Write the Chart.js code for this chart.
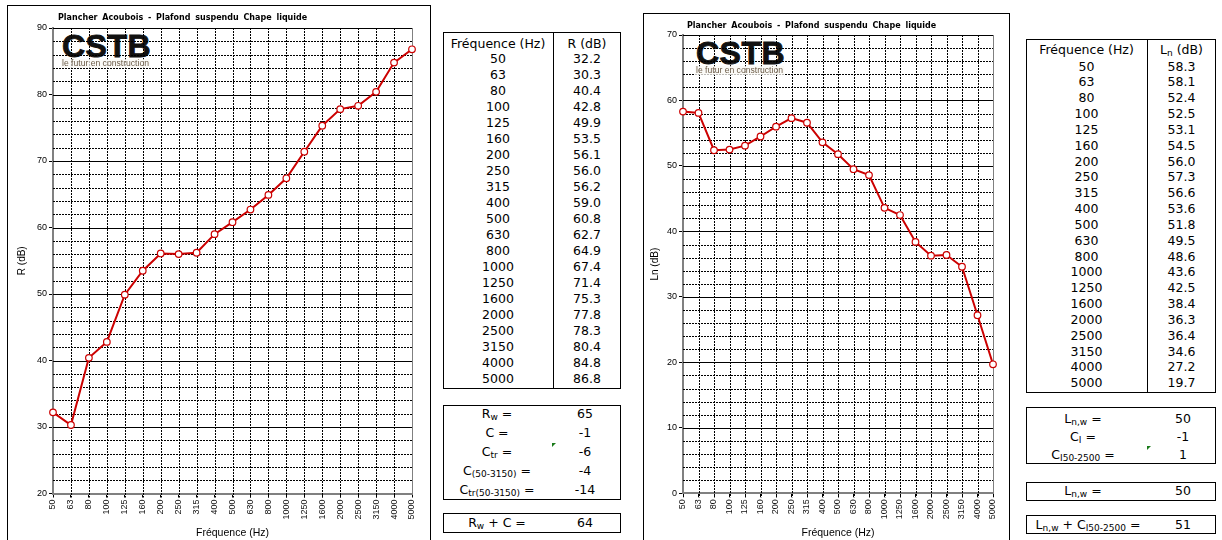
<!DOCTYPE html>
<html>
<head>
<meta charset="utf-8">
<script src="https://cdn.jsdelivr.net/npm/chart.js@4/dist/chart.umd.min.js"></script>
<style>
  html, body { margin: 0; padding: 0; }
  body { width: 1222px; height: 540px; overflow: hidden; background: #fff; position: relative; font-family: "DejaVu Sans", Verdana, sans-serif; color: #000; }
  .frame { position: absolute; border: 1px solid #000; background: #fff; overflow: hidden; }
  .frame canvas { position: absolute; left: 0; top: 0; z-index: 1; }
  .chart-title { position: absolute; z-index: 2; font: bold 8px "DejaVu Sans", Verdana, sans-serif; white-space: nowrap; line-height: 10px; word-spacing: 2px; }
  .logo { position: absolute; z-index: 0; }
  .logo .mark { font: bold 32px "Liberation Sans", Arial, sans-serif; line-height: 26px; letter-spacing: 0.5px; color: #111; -webkit-text-stroke: 0.9px #111; }
  .tag { position: absolute; z-index: 2; font: 8.6px "Liberation Sans", Arial, sans-serif; color: #6a5a46; line-height: 9px; white-space: nowrap; background: rgba(250,248,244,0.75); padding: 0 1px; }
  .box { position: absolute; border: 1px solid #000; background: #fff; font-size: 12.5px; }
  .box .div { position: absolute; top: 0; bottom: 0; width: 1px; background: #000; }
  .row { position: absolute; left: 0; right: 0; white-space: nowrap; }
  .row span { position: absolute; top: 0; text-align: center; }
  sub { font-size: 9px; vertical-align: -2px; line-height: 0; }
  .flag { position: absolute; width: 0; height: 0; border-top: 4px solid #1a7a1a; border-right: 4px solid transparent; z-index: 3; }
</style>
</head>
<body>
<div class="frame" id="frameR" style="left:7px; top:5px; width:422px; height:545px;">
  <div class="logo" style="left:54px; top:27px;"><div class="mark">CSTB</div></div>
  <div class="tag" style="left:53px; top:53px;">le futur en construction</div>
  <div class="chart-title" style="left:50px; top:7px;">Plancher Acoubois - Plafond suspendu Chape liquide</div>
  <canvas id="chartR" width="422" height="540"></canvas>
</div>
<div class="frame" id="frameLn" style="left:643px; top:13px; width:365px; height:537px;">
  <div class="logo" style="left:52px; top:26px;"><div class="mark">CSTB</div></div>
  <div class="tag" style="left:51px; top:52px;">le futur en construction</div>
  <div class="chart-title" style="left:43px; top:7px;">Plancher Acoubois - Plafond suspendu Chape liquide</div>
  <canvas id="chartLn" width="365" height="532"></canvas>
</div>
<div id="tables"></div>

<script>
// Third-octave band centre frequencies (Hz)
const frequencyLabels = ['50', '63', '80', '100', '125', '160', '200', '250', '315', '400', '500', '630', '800', '1000', '1250', '1600', '2000', '2500', '3150', '4000', '5000'];

// Airborne sound reduction index R (dB)
const airborneR = [32.2, 30.3, 40.4, 42.8, 49.9, 53.5, 56.1, 56.0, 56.2, 59.0, 60.8, 62.7, 64.9, 67.4, 71.4, 75.3, 77.8, 78.3, 80.4, 84.8, 86.8];

// Normalised impact sound pressure level Ln (dB)
const impactLn = [58.3, 58.1, 52.4, 52.5, 53.1, 54.5, 56.0, 57.3, 56.6, 53.6, 51.8, 49.5, 48.6, 43.6, 42.5, 38.4, 36.3, 36.4, 34.6, 27.2, 19.7];

// Single-number ratings
const airborneRatings = [['R<sub>w</sub> =', '65'], ['C =', '-1'], ['C<sub>tr</sub> =', '-6'], ['C<sub>(50-3150)</sub> =', '-4'], ['C<sub>tr(50-3150)</sub> =', '-14']];
const airborneSum = [['R<sub>w</sub> + C =', '64']];
const impactRatings = [['L<sub>n,w</sub> =', '50'], ['C<sub>I</sub> =', '-1'], ['C<sub>I50-2500</sub> =', '1']];
const impactWeighted = [['L<sub>n,w</sub> =', '50']];
const impactSum = [['L<sub>n,w</sub> + C<sub>I50-2500</sub> =', '51']];

// ---- grid in the spreadsheet style: dotted minor lines, solid majors ----
const sheetGrid = {
  id: 'sheetGrid',
  beforeDatasetsDraw(chart) {
    const { ctx, chartArea: a, scales: { x, y } } = chart;
    const minorStep = 2, majorStep = 10;
    ctx.save();
    ctx.lineWidth = 1;
    ctx.strokeStyle = '#000';
    ctx.setLineDash([2, 1]);
    ctx.beginPath();
    for (let v = y.min + minorStep; v < y.max; v += minorStep) {
      if (v % majorStep === 0) continue;
      const py = Math.round(y.getPixelForValue(v)) + 0.5;
      ctx.moveTo(a.left, py); ctx.lineTo(a.right, py);
    }
    for (let i = 1; i < x.ticks.length - 1; i++) {
      const px = Math.round(x.getPixelForTick(i)) + 0.5;
      ctx.moveTo(px, a.top); ctx.lineTo(px, a.bottom + 4);
    }
    ctx.stroke();
    ctx.setLineDash([]);
    ctx.beginPath();
    for (let v = y.min + majorStep; v <= y.max; v += majorStep) {
      const py = Math.round(y.getPixelForValue(v)) + 0.5;
      ctx.moveTo(a.left, py); ctx.lineTo(a.right, py);
    }
    ctx.stroke();
    ctx.strokeStyle = '#808080';
    ctx.beginPath();
    const rx = Math.round(x.getPixelForTick(x.ticks.length - 1)) + 0.5;
    ctx.moveTo(rx, a.top); ctx.lineTo(rx, a.bottom);
    ctx.stroke();
    ctx.restore();
  }
};

function buildChart(canvas, values, yTitle, yMin, yMax, g) {
  const axisFont = { family: '"Liberation Sans", Arial, sans-serif' };
  return new Chart(canvas, {
    type: 'line',
    data: {
      labels: frequencyLabels,
      datasets: [{
        data: values,
        borderColor: '#CC0000',
        borderWidth: 2,
        pointRadius: 3.3,
        pointBackgroundColor: '#fff',
        pointBorderColor: '#CC0000',
        pointBorderWidth: 1.2,
        tension: 0,
        clip: false
      }]
    },
    options: {
      responsive: false,
      animation: false,
      devicePixelRatio: 1,
      layout: { padding: { left: 0, right: g.padRight, top: g.padTop, bottom: 0 } },
      plugins: { legend: { display: false }, tooltip: { enabled: false } },
      scales: {
        x: {
          type: 'category',
          offset: false,
          grid: { drawOnChartArea: false, tickLength: 4, color: '#000' },
          border: { color: '#808080', width: 2 },
          ticks: { autoSkip: false, minRotation: 90, maxRotation: 90, padding: 2, color: '#111', font: { ...axisFont, size: 9 } },
          title: { display: true, text: 'Fréquence (Hz)', color: '#000', font: { ...axisFont, size: 10.5 }, padding: { top: 0, bottom: 7 } },
          afterFit: s => { s.height = g.xHeight; }
        },
        y: {
          min: yMin,
          max: yMax,
          grid: { drawOnChartArea: false, tickLength: 4, color: '#000' },
          border: { color: '#808080', width: 2 },
          ticks: { stepSize: 10, padding: 2, color: '#000', font: { ...axisFont, size: 9 } },
          title: { display: true, text: yTitle, color: '#000', font: { ...axisFont, size: 10 }, padding: { top: g.yTitlePad, bottom: 0 } },
          afterFit: s => { s.width = g.yWidth; }
        }
      }
    },
    plugins: [sheetGrid]
  });
}

buildChart(document.getElementById('chartR'), airborneR, 'R (dB)', 20, 90,
  { padRight: 18, padTop: 22, xHeight: 52.5, yWidth: 45, yTitlePad: 8 });
buildChart(document.getElementById('chartLn'), impactLn, 'Ln (dB)', 0, 70,
  { padRight: 16, padTop: 21, xHeight: 52.7, yWidth: 39, yTitlePad: 5 });

// ---- value tables ----
const host = document.getElementById('tables');

function makeBox(left, top, width, height, divX) {
  const box = document.createElement('div');
  box.className = 'box';
  Object.assign(box.style, { left: left + 'px', top: top + 'px', width: (width - 2) + 'px', height: (height - 2) + 'px' });
  if (divX !== null) {
    const d = document.createElement('div');
    d.className = 'div';
    d.style.left = (divX - left - 1) + 'px';
    box.appendChild(d);
  }
  host.appendChild(box);
  return box;
}

function addRow(box, boxLeft, boxTop, centerY, cells) {
  const rowH = 16;
  const row = document.createElement('div');
  row.className = 'row';
  row.style.top = (centerY - boxTop - 1 - rowH / 2) + 'px';
  row.style.height = rowH + 'px';
  row.style.lineHeight = rowH + 'px';
  cells.forEach(([html, cx]) => {
    const s = document.createElement('span');
    s.innerHTML = html;
    s.style.left = (cx - boxLeft - 1 - 60) + 'px';
    s.style.width = '120px';
    row.appendChild(s);
  });
  box.appendChild(row);
}

function frequencyTable(left, top, right, bottom, divX, headerY, firstY, step, header, values) {
  const box = makeBox(left, top, right - left, bottom - top, divX);
  const c1 = (left + divX) / 2, c2 = (divX + right) / 2;
  addRow(box, left, top, headerY, [['Fréquence (Hz)', c1], [header, c2]]);
  frequencyLabels.forEach((f, i) => {
    addRow(box, left, top, firstY + i * step, [[f, c1], [values[i].toFixed(1), c2]]);
  });
}

function ratingBox(left, top, right, bottom, c1, c2, firstY, step, rows) {
  const box = makeBox(left, top, right - left, bottom - top, null);
  rows.forEach(([label, val], i) => addRow(box, left, top, firstY + i * step, [[label, c1], [val, c2]]));
}

function flag(x, y) {
  const f = document.createElement('div');
  f.className = 'flag';
  f.style.left = x + 'px';
  f.style.top = y + 'px';
  host.appendChild(f);
}

frequencyTable(443, 32, 621, 389, 553, 43.5, 59.3, 16.0, 'R (dB)', airborneR);
ratingBox(443, 405, 621, 500, 497, 585, 414, 19, airborneRatings);
ratingBox(443, 513, 621, 533, 497, 585, 523, 19, airborneSum);
flag(552, 443);

frequencyTable(1026, 39, 1216, 393, 1147, 49.5, 66.6, 15.83, 'L<sub>n</sub> (dB)', impactLn);
ratingBox(1026, 407, 1216, 464, 1083, 1183, 419, 18, impactRatings);
ratingBox(1026, 482, 1216, 501, 1083, 1183, 491, 18, impactWeighted);
ratingBox(1026, 515, 1216, 534, 1088, 1183, 524.5, 18, impactSum);
flag(1147, 446);
</script>
</body>
</html>
